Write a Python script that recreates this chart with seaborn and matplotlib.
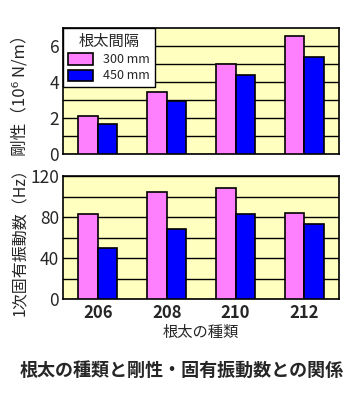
import pandas as pd
import numpy as np
import matplotlib
matplotlib.use("Agg")
import matplotlib.pyplot as plt
import seaborn as sns
from matplotlib.ticker import FixedLocator

# data
joists = ["206", "208", "210", "212"]
spacings = ["300 mm", "450 mm"]
stiffness_300 = [2.13, 3.43, 4.98, 6.54]
stiffness_450 = [1.70, 2.96, 4.37, 5.37]
freq_300 = [82.7, 104.1, 108.0, 83.7]
freq_450 = [49.6, 68.1, 82.7, 73.0]

sns.set_theme(style="white")
plt.rcParams["font.family"] = ["Noto Sans CJK JP", "DejaVu Sans"]

colors = {"300 mm": "#FF80FF", "450 mm": "#0000FF"}
bg = "#FFFFC0"

df_k = pd.DataFrame({
    "joist": joists * 2,
    "spacing": [spacings[0]] * 4 + [spacings[1]] * 4,
    "value": stiffness_300 + stiffness_450,
})
df_f = pd.DataFrame({
    "joist": joists * 2,
    "spacing": [spacings[0]] * 4 + [spacings[1]] * 4,
    "value": freq_300 + freq_450,
})

fig = plt.figure(figsize=(3.64, 4.2), dpi=100)
ax1 = fig.add_axes([0.174, 0.633, 0.757, 0.300])
ax2 = fig.add_axes([0.174, 0.287, 0.757, 0.294])

for ax, d in [(ax1, df_k), (ax2, df_f)]:
    sns.barplot(data=d, x="joist", y="value", hue="spacing", palette=colors,
                saturation=1, width=0.57, edgecolor="black", linewidth=1.2,
                ax=ax, zorder=3)
    ax.set_facecolor(bg)
    for s in ax.spines.values():
        s.set_color("black")
        s.set_linewidth(1.2)
    ax.tick_params(axis="y", labelsize=12.5, length=0, pad=3)
    ax.tick_params(axis="y", which="minor", length=0)
    ax.set_xlabel("")

ax1.set_ylim(0, 7)
ax1.yaxis.set_major_locator(FixedLocator([0, 2, 4, 6]))
ax1.yaxis.set_minor_locator(FixedLocator([1, 3, 5]))
ax1.set_xticks([])
ax1.set_ylabel("剛性（10⁶ N/m）", fontsize=12)

ax2.set_ylim(0, 120)
ax2.yaxis.set_major_locator(FixedLocator([0, 40, 80, 120]))
ax2.yaxis.set_minor_locator(FixedLocator([20, 60, 100]))
ax2.tick_params(axis="x", length=0, labelsize=12, pad=3)
for t in ax2.get_xticklabels():
    t.set_fontweight("bold")
ax2.set_ylabel("1次固有振動数（Hz）", fontsize=11.5)
ax2.set_xlabel("根太の種類", fontsize=11, labelpad=2)
ax2.get_legend().remove()

for ax in (ax1, ax2):
    ax.grid(True, axis="y", which="both", color="black", linewidth=1.0)
    ax.set_axisbelow(True)
    ax.yaxis.set_label_coords(-0.125, 0.5)

leg = ax1.legend(title="根太間隔", loc="upper left", frameon=True, fancybox=False,
                 fontsize=9, title_fontsize=11, borderaxespad=0, borderpad=0.4,
                 handlelength=2.0, handleheight=1.0, handletextpad=0.8,
                 labelspacing=0.25, edgecolor="black", framealpha=1)
leg.get_frame().set_linewidth(1.0)
leg.set_zorder(5)

fig.text(0.5, 0.118, "根太の種類と剛性・固有振動数との関係", ha="center", va="center",
         fontsize=13, fontweight="bold")

fig.savefig("out.png", dpi=100, facecolor="white")
